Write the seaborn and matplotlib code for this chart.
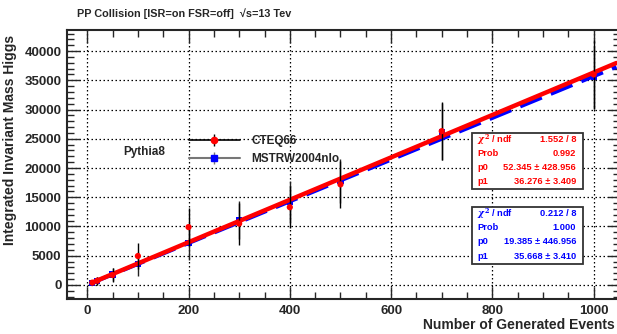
import matplotlib
matplotlib.use("Agg")
import matplotlib.pyplot as plt
import seaborn as sns
import numpy as np
import pandas as pd
from matplotlib.lines import Line2D
from matplotlib.patches import Rectangle
from matplotlib.ticker import MultipleLocator

# data
events = [10, 20, 50, 100, 200, 300, 400, 500, 700, 1000]
cteq_mass = [400, 730, 1700, 4950, 9900, 10500, 13300, 17200, 26300, 36000]
cteq_err = [350, 700, 1200, 2200, 3200, 3600, 3600, 4000, 5000, 5900]
mstrw_mass = [380, 700, 1800, 3600, 7200, 11100, 14200, 17800, 26200, 35500]
mstrw_err = [350, 650, 1100, 2000, 2900, 3300, 3500, 3800, 4900, 5400]

# fit results (pol1) shown in the stat boxes
cteq_fit = {"chi2": "1.552 / 8", "prob": "0.992", "p0": 52.345, "p0e": 428.956, "p1": 36.276, "p1e": 3.409}
mstrw_fit = {"chi2": "0.212 / 8", "prob": "1.000", "p0": 19.385, "p0e": 446.956, "p1": 35.668, "p1e": 3.410}
fit_range = [10, 1045]

W, H = 617, 334
sns.set_style("ticks")
plt.rcParams['font.family'] = ['Liberation Sans', 'DejaVu Sans']
plt.rcParams['font.weight'] = 'bold'
plt.rcParams['mathtext.fontset'] = 'dejavuserif'

fig = plt.figure(figsize=(W / 100, H / 100), dpi=100)
left, right, top, bottom = 67, 620, 30, 299
ax = fig.add_axes([left / W, 1 - bottom / H, (right - left) / W, (bottom - top) / H])

# error bars + blue markers sit under the fit lines
ax.errorbar(events, mstrw_mass, yerr=mstrw_err, fmt='none', ecolor='#222222', elinewidth=1.0, zorder=2)
sns.scatterplot(x=events, y=mstrw_mass, marker='s', s=20, color='#0000ff', edgecolor='none', ax=ax, zorder=2.5)

# fit lines
xfit = np.linspace(fit_range[0], fit_range[1], 50)
df_fit = pd.DataFrame({
    "x": np.concatenate([xfit, xfit]),
    "y": np.concatenate([mstrw_fit["p0"] + mstrw_fit["p1"] * xfit, cteq_fit["p0"] + cteq_fit["p1"] * xfit]),
    "set": ["MSTRW2004nlo"] * len(xfit) + ["CTEQ66"] * len(xfit),
})
sns.lineplot(data=df_fit[df_fit["set"] == "MSTRW2004nlo"], x="x", y="y", color="#0000ff",
             linewidth=2.8, ax=ax, zorder=3, legend=False)
ax.lines[-1].set_dashes([6, 2.5])
sns.lineplot(data=df_fit[df_fit["set"] == "CTEQ66"], x="x", y="y", color="#ff0000",
             linewidth=3.2, ax=ax, zorder=4, legend=False)

ax.errorbar(events, cteq_mass, yerr=cteq_err, fmt='none', ecolor='black', elinewidth=1.0, zorder=5)
sns.scatterplot(x=events, y=cteq_mass, marker='o', s=20, color='#ff0000', edgecolor='none', ax=ax, zorder=7)

ax.set_xlim(-40, 1052)
ax.set_ylim(-2400, 43600)
ax.xaxis.set_major_locator(MultipleLocator(200))
ax.xaxis.set_minor_locator(MultipleLocator(50))
ax.yaxis.set_major_locator(MultipleLocator(5000))
ax.yaxis.set_minor_locator(MultipleLocator(1000))
ax.grid(True, which='major', linestyle=(0, (1.2, 2)), color='black', linewidth=0.9)
ax.tick_params(which='both', direction='in', top=True, right=True, width=1.0, labelsize=9.5)
ax.tick_params(which='major', length=9)
ax.tick_params(which='minor', length=5)
ax.tick_params(axis='y', pad=4)
ax.tick_params(axis='x', pad=4)
for lab in ax.get_xticklabels() + ax.get_yticklabels():
    lab.set_fontweight('bold')
for sp in ax.spines.values():
    sp.set_linewidth(1.5)

ax.set_xlabel("")
ax.set_ylabel("")
fig.text(10 / W, 1 - 140 / H, "Integrated Invariant Mass Higgs", rotation=90, ha='center', va='center',
         fontsize=10, fontweight='bold')
fig.text(615 / W, 1 - 325 / H, "Number of Generated Events", ha='right', va='center',
         fontsize=10, fontweight='bold')
fig.text(77 / W, 1 - 14 / H, "PP Collision [ISR=on FSR=off]  \u221as=13 Tev", ha='left', va='center',
         fontsize=7.8, fontweight='bold')
fig.text(123 / W, 1 - 152 / H, "Pythia8", ha='left', va='center', fontsize=8.5, fontweight='bold')

# legend
h_cteq = (Line2D([], [], color='black', lw=1.2), Line2D([], [], color='black', marker='|', ms=8, ls='none'),
          Line2D([], [], color='#ff0000', marker='o', ms=4.5, ls='none'))
h_mstrw = (Line2D([], [], color='#777777', lw=1.5), Line2D([], [], color='#777777', marker='|', ms=8, ls='none'),
           Line2D([], [], color='#0000ff', marker='s', ms=4.5, ls='none'))
leg = ax.legend([h_cteq, h_mstrw], ["CTEQ66", "MSTRW2004nlo"], loc='upper left',
                bbox_to_anchor=(189 / W, 1 - 135 / H), bbox_transform=fig.transFigure,
                frameon=False, borderpad=0, borderaxespad=0, handlelength=4.3, handletextpad=1.0,
                labelspacing=0.5, prop={'size': 8.5, 'weight': 'bold'})


def stat_box(fit, color, x0, y0, x1, y1, rows_y):
    fig.patches.append(Rectangle((x0 / W, 1 - y1 / H), (x1 - x0) / W, (y1 - y0) / H,
                                 transform=fig.transFigure, facecolor='white', edgecolor='#333333',
                                 linewidth=1.3, zorder=10))
    labels = [r"$\chi^{2}$ / ndf", "Prob", "p0", "p1"]
    values = [fit["chi2"], fit["prob"], f"{fit['p0']:.3f} \u00b1 {fit['p0e']:.3f}",
              f"{fit['p1']:.3f} \u00b1 {fit['p1e']:.3f}"]
    for lab, val, yy in zip(labels, values, rows_y):
        fig.text((x0 + 5) / W, 1 - yy / H, lab, color=color, fontsize=6.7, fontweight='bold',
                 ha='left', va='center', zorder=11)
        fig.text((x1 - 7) / W, 1 - yy / H, val, color=color, fontsize=6.7, fontweight='bold',
                 ha='right', va='center', zorder=11)


stat_box(cteq_fit, '#ff0000', 472, 133, 583, 189, [140, 154, 168, 182])
stat_box(mstrw_fit, '#0000ff', 472, 207, 583, 264, [214, 228, 242, 256.5])

fig.savefig("out.png", dpi=100)
